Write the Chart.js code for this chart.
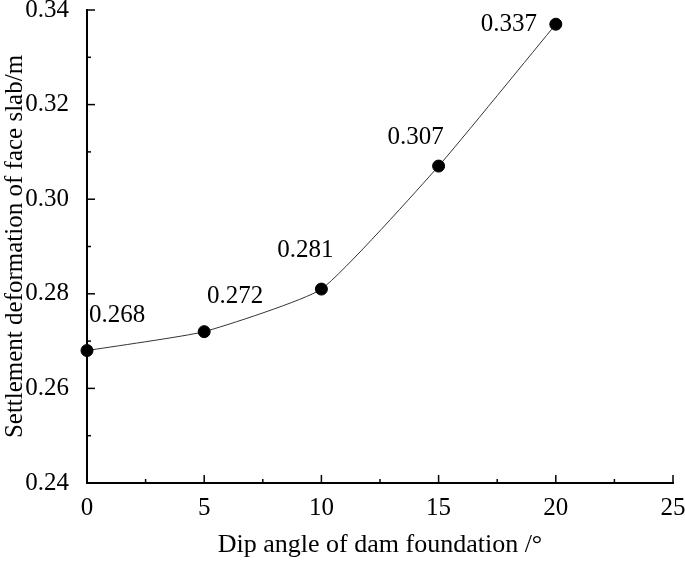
<!DOCTYPE html>
<html>
<head>
<meta charset="utf-8">
<script src="https://cdn.jsdelivr.net/npm/chart.js@4"></script>
<style>
  body { margin: 0; background: #fff; }
  #wrap { width: 685px; height: 565px; }
</style>
</head>
<body>
<div id="wrap"><canvas id="chart"></canvas></div>
<script>
// 데이터
const dipAngles = [0, 5, 10, 15, 20];
const settlement = [0.268, 0.272, 0.281, 0.307, 0.337];
const pointLabels = ['0.268', '0.272', '0.281', '0.307', '0.337'];

const FONT = "'Liberation Serif', 'Times New Roman', serif";

// 라벨 위치 (점 기준 오프셋)
const labelOffsets = [[30, -35], [31, -35], [-16, -39], [-23, -29], [-47, 0]];

// 안쪽 눈금 + 데이터 라벨
const innerTicks = {
    id: 'innerTicks',
    afterDraw(chart) {
        const ctx = chart.ctx;
        const xs = chart.scales.x, ys = chart.scales.y;
        const bottom = chart.chartArea.bottom, left = chart.chartArea.left;
        ctx.save();
        ctx.strokeStyle = '#000';
        ctx.lineWidth = 1.5;
        for (let v = 0; v <= 25; v += 2.5) {
            const px = xs.getPixelForValue(v);
            const len = (v % 5 === 0) ? 8 : 4;
            ctx.beginPath();
            ctx.moveTo(px, bottom);
            ctx.lineTo(px, bottom - len);
            ctx.stroke();
        }
        for (let i = 0; i <= 10; i++) {
            const v = 0.24 + i * 0.01;
            const py = ys.getPixelForValue(v);
            const len = (i % 2 === 0) ? 8 : 4;
            ctx.beginPath();
            ctx.moveTo(left, py);
            ctx.lineTo(left + len, py);
            ctx.stroke();
        }
        const meta = chart.getDatasetMeta(0);
        ctx.fillStyle = '#000';
        ctx.font = '25px ' + FONT;
        ctx.textAlign = 'center';
        ctx.textBaseline = 'middle';
        meta.data.forEach((pt, i) => {
            ctx.fillText(pointLabels[i], pt.x + labelOffsets[i][0], pt.y + labelOffsets[i][1]);
        });
        ctx.restore();
    }
};

new Chart(document.getElementById('chart'), {
    type: 'line',
    data: {
        datasets: [{
            data: dipAngles.map((x, i) => ({ x: x, y: settlement[i] })),
            borderColor: '#333',
            borderWidth: 1,
            backgroundColor: '#000',
            pointBackgroundColor: '#000',
            pointBorderColor: '#000',
            pointRadius: 6,
            tension: 0.15,
            fill: false,
            clip: false
        }]
    },
    plugins: [innerTicks],
    options: {
        responsive: true,
        maintainAspectRatio: false,
        animation: false,
        layout: { padding: { top: 10, right: 12, left: 0, bottom: 0 } },
        plugins: {
            legend: { display: false },
            tooltip: { enabled: false }
        },
        scales: {
            x: {
                type: 'linear',
                min: 0,
                max: 25,
                afterFit(scale) {
                    scale.height = 82;
                    scale.paddingLeft = 0;
                    scale.paddingRight = 0;
                },
                grid: { display: false },
                border: { display: true, color: '#000', width: 2 },
                ticks: {
                    stepSize: 5,
                    color: '#000',
                    padding: 2,
                    font: { family: FONT, size: 25 }
                },
                title: {
                    display: true,
                    text: 'Dip angle of dam foundation /°',
                    color: '#000',
                    padding: { top: 10 },
                    font: { family: FONT, size: 26 }
                }
            },
            y: {
                min: 0.24,
                max: 0.34,
                afterFit(scale) {
                    scale.width = 87;
                    scale.paddingTop = 0;
                    scale.paddingBottom = 0;
                },
                grid: { display: false },
                border: { display: true, color: '#000', width: 2 },
                ticks: {
                    stepSize: 0.02,
                    color: '#000',
                    padding: 10,
                    font: { family: FONT, size: 25 },
                    callback: v => v.toFixed(2)
                },
                title: {
                    display: true,
                    text: 'Settlement deformation of face slab/m',
                    color: '#000',
                    padding: { top: 0, bottom: 0 },
                    font: { family: FONT, size: 25 }
                }
            }
        }
    }
});
</script>
</body>
</html>
